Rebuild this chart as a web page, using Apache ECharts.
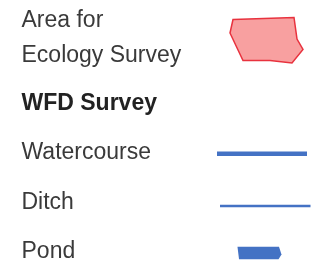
<!DOCTYPE html>
<html>
<head>
<meta charset="utf-8">
<script src="https://cdn.jsdelivr.net/npm/echarts@6/dist/echarts.min.js"></script>
<style>
  html, body { margin: 0; padding: 0; background: #fff; }
  #legend { width: 314px; height: 265px; }
</style>
</head>
<body>
<div id="legend"></div>
<script>
  // legend entries, top to bottom
  var legendLabels = ['Area for\nEcology Survey', 'WFD Survey', 'Watercourse', 'Ditch', 'Pond'];
  var legendKinds = ['area', 'heading', 'watercourse', 'ditch', 'pond'];

  // layout of each row (text centre y) and of the swatches
  var rowY = [38.3, 103.5, 152.5, 202.5, 251.5];
  var textX = 21.5;
  var swatches = {
    area: {
      type: 'polygon',
      shape: { points: [[233, 19.5], [294, 17.5], [297, 39], [303, 49.5], [292, 63], [270, 60.5], [243, 60.5], [230, 33]] },
      style: { fill: '#f8a0a0', stroke: '#e8323e', lineWidth: 1.5 }
    },
    watercourse: {
      type: 'line',
      shape: { x1: 217, y1: 153.7, x2: 307, y2: 153.7 },
      style: { stroke: '#4472c4', lineWidth: 4.5 }
    },
    ditch: {
      type: 'line',
      shape: { x1: 220, y1: 206, x2: 310.5, y2: 206 },
      style: { stroke: '#4472c4', lineWidth: 2.5 }
    },
    pond: {
      type: 'polygon',
      shape: { points: [[237.5, 246.7], [279, 246.7], [281.5, 254.5], [278.5, 259.3], [239, 259.3]] },
      style: { fill: '#4472c4' }
    }
  };

  var myChart = echarts.init(document.getElementById('legend'));
  var elements = [];
  for (var i = 0; i < legendLabels.length; i++) {
    var kind = legendKinds[i];
    elements.push({
      type: 'text',
      x: textX,
      y: rowY[i],
      style: {
        text: legendLabels[i],
        font: (kind === 'heading' ? 'bold ' : '') + '23px "Liberation Sans", Arial, sans-serif',
        fill: kind === 'heading' ? '#222' : '#3a3a3a',
        lineHeight: 35.5,
        verticalAlign: 'middle',
        align: 'left'
      }
    });
    if (swatches[kind]) {
      elements.push(swatches[kind]);
    }
  }

  myChart.setOption({
    animation: false,
    graphic: { elements: elements }
  });
  window.addEventListener('resize', function () {
    myChart.resize();
  }, false);
</script>
</body>
</html>
